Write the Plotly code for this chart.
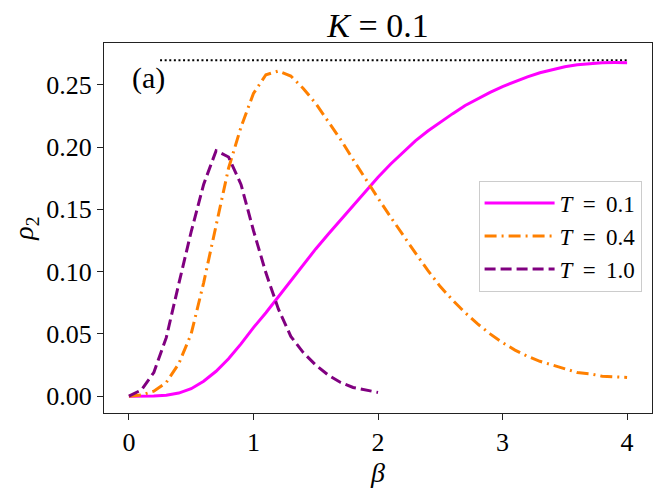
import plotly.graph_objects as go

# ---- data ----
beta_01 = [round(0.1 * i, 1) for i in range(41)]
rho_01 = [0.0, 0.0, 0.0002, 0.0008, 0.0025, 0.006, 0.012, 0.020, 0.030, 0.042,
          0.055, 0.067, 0.080, 0.093, 0.1058, 0.1182, 0.130, 0.1415, 0.153, 0.1645,
          0.1757, 0.1862, 0.196, 0.205, 0.2128, 0.220, 0.2268, 0.2333, 0.2388, 0.2438,
          0.2485, 0.2527, 0.2563, 0.2596, 0.2623, 0.2645, 0.266, 0.267, 0.2677, 0.2678,
          0.2677]

beta_04 = [round(0.1 * i, 1) for i in range(41)]
rho_04 = [0.0, 0.001, 0.004, 0.011, 0.026, 0.050, 0.091, 0.138, 0.183, 0.216,
          0.243, 0.258, 0.261, 0.257, 0.247, 0.235, 0.221, 0.206, 0.190, 0.174,
          0.159, 0.144, 0.129, 0.115, 0.101, 0.088, 0.077, 0.067, 0.058, 0.050,
          0.043, 0.037, 0.032, 0.028, 0.025, 0.022, 0.019, 0.018, 0.016, 0.0155,
          0.015]

beta_10 = [round(0.1 * i, 1) for i in range(21)]
rho_10 = [0.0, 0.005, 0.019, 0.047, 0.090, 0.132, 0.170, 0.197, 0.192, 0.170,
          0.133, 0.099, 0.070, 0.048, 0.035, 0.025, 0.017, 0.011, 0.007, 0.005,
          0.003]

limit_beta = [0.25, 4.0]
limit_rho = [0.2696, 0.2696]

x_ticks = [0, 1, 2, 3, 4]
y_ticks = [0.00, 0.05, 0.10, 0.15, 0.20, 0.25]
labels = ["<i>T</i>\u2009 = \u20090.1", "<i>T</i>\u2009 = \u20090.4", "<i>T</i>\u2009 = \u20091.0"]

FONT = "Liberation Serif"
OFF = 8  # page body margin in the browser

fig = go.Figure()
fig.add_trace(go.Scatter(x=limit_beta, y=limit_rho, mode="lines",
                         line=dict(color="black", width=2, dash="2px,2.6px"),
                         showlegend=False, hoverinfo="skip"))
fig.add_trace(go.Scatter(x=beta_01, y=rho_01, mode="lines", name=labels[0],
                         line=dict(color="#ff00ff", width=3)))
fig.add_trace(go.Scatter(x=beta_04, y=rho_04, mode="lines", name=labels[1],
                         line=dict(color="#ff8000", width=3, dash="12px,5px,2px,5px")))
fig.add_trace(go.Scatter(x=beta_10, y=rho_10, mode="lines", name=labels[2],
                         line=dict(color="#800080", width=3, dash="11px,5px")))

axis_common = dict(showgrid=False, zeroline=False, showline=True, mirror=True,
                   linecolor="#222", linewidth=1.3, ticks="outside", ticklen=6,
                   tickwidth=1.2, tickcolor="#222", automargin=False,
                   tickfont=dict(family=FONT, size=26, color="black"))

fig.update_xaxes(range=[-0.2, 4.2], tickvals=x_ticks, ticktext=[str(v) for v in x_ticks],
                 title=dict(text="<i>β</i>", font=dict(family=FONT, size=28, color="black"),
                            standoff=0),
                 **axis_common)
fig.update_yaxes(range=[-0.0135, 0.2835], tickvals=y_ticks,
                 ticktext=[f"{v:.2f}" for v in y_ticks],
                 title=dict(text="<i>ρ</i><sub>2</sub>", font=dict(family=FONT, size=28, color="black"),
                            standoff=14),
                 **axis_common)

fig.add_annotation(x=(130 - 104) / 548, y=0.2555, xref="paper", yref="y", text="(a)",
                   showarrow=False, font=dict(family=FONT, size=30, color="black"))

fig.update_layout(
    width=664, height=495,
    margin=dict(l=104 - OFF, r=20, t=43 - OFF, b=90, autoexpand=False),
    paper_bgcolor="white", plot_bgcolor="white",
    title=dict(text="<i>K</i> = 0.1", x=0.5, xref="paper", xanchor="center",
               y=1 - 17 / 495, yref="container", yanchor="middle", automargin=False,
               font=dict(family=FONT, size=34, color="black")),
    legend=dict(x=0.981, y=0.628, xanchor="right", yanchor="top",
                bgcolor="rgba(255,255,255,0.8)", bordercolor="#cccccc", borderwidth=1,
                font=dict(family=FONT, size=23, color="black"),
                itemwidth=70, tracegroupgap=0),
    showlegend=True,
)

fig.write_html("out.html")
